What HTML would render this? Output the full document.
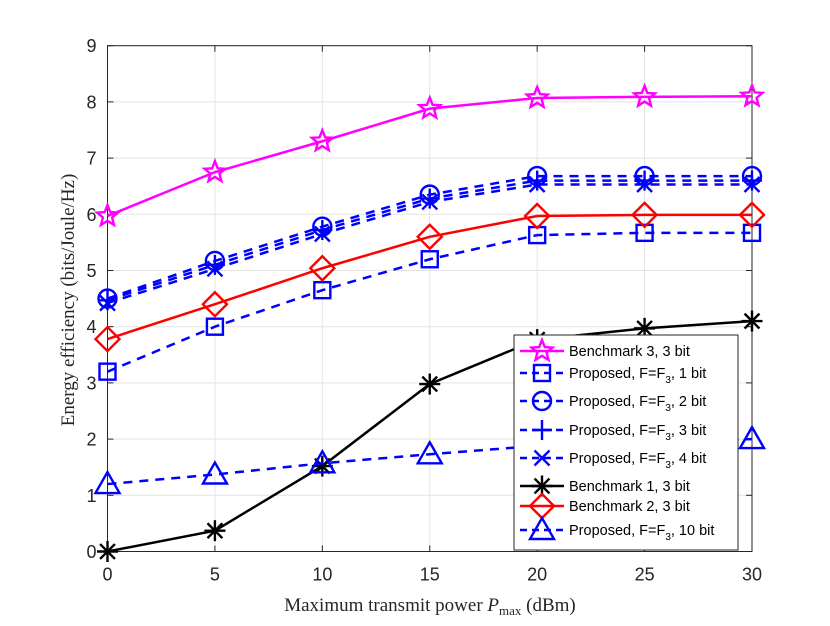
<!DOCTYPE html>
<html><head><meta charset="utf-8"><style>
body{margin:0;background:#fff}
svg text{font-family:"Liberation Sans",sans-serif}
</style></head><body>
<svg id="chart" width="830" height="621" xmlns="http://www.w3.org/2000/svg"></svg>
<script>
const xVals=[0,5,10,15,20,25,30];
const xTicks=[0,5,10,15,20,25,30];
const yTicks=[0,1,2,3,4,5,6,7,8,9];
const bench3=[5.97,6.75,7.3,7.88,8.07,8.09,8.1];
const prop1=[3.2,4.0,4.65,5.2,5.63,5.67,5.67];
const prop2=[4.5,5.17,5.78,6.35,6.68,6.68,6.68];
const prop3=[4.47,5.1,5.72,6.28,6.6,6.6,6.6];
const prop4=[4.42,5.03,5.65,6.22,6.53,6.53,6.53];
const bench1=[0,0.37,1.52,2.98,3.77,3.97,4.1];
const bench2=[3.78,4.4,5.04,5.6,5.97,5.99,5.99];
const prop10=[1.2,1.37,1.57,1.73,1.88,1.95,2.0];
const labels=["Benchmark 3, 3 bit","Proposed, F=F3, 1 bit","Proposed, F=F3, 2 bit","Proposed, F=F3, 3 bit","Proposed, F=F3, 4 bit","Benchmark 1, 3 bit","Benchmark 2, 3 bit","Proposed, F=F3, 10 bit"];

const L=107.5,R=752,T=45.7,B=551.5;
const sx=v=>L+(v-0)/30*(R-L);
const sy=v=>B-(v/9)*(B-T);
const svg=document.getElementById('chart');
const NS='http://www.w3.org/2000/svg';
function mk(tag,at,parent){const e=document.createElementNS(NS,tag);for(const k in at)e.setAttribute(k,at[k]);(parent||svg).appendChild(e);return e;}

xTicks.forEach(t=>{const g=mk('line',{x1:sx(t),x2:sx(t),y1:T,y2:B,stroke:'#e3e3e3','stroke-width':1});
});
yTicks.forEach(t=>{const g=mk('line',{x1:L,x2:R,y1:sy(t),y2:sy(t),stroke:'#e3e3e3','stroke-width':1});
});
const box=mk('rect',{x:L,y:T,width:R-L,height:B-T,fill:'none',stroke:'#262626','stroke-width':1});

xTicks.forEach(t=>{mk('line',{x1:sx(t),x2:sx(t),y1:B,y2:B-6,stroke:'#262626'});mk('line',{x1:sx(t),x2:sx(t),y1:T,y2:T+6,stroke:'#262626'});
const tx=mk('text',{x:sx(t),y:B+29,'text-anchor':'middle','font-size':18,fill:'#262626'});tx.textContent=t;
});
yTicks.forEach(t=>{mk('line',{x1:L,x2:L+6,y1:sy(t),y2:sy(t),stroke:'#262626'});mk('line',{x1:R,x2:R-6,y1:sy(t),y2:sy(t),stroke:'#262626'});
const tx=mk('text',{x:L-11,y:sy(t)+6.5,'text-anchor':'end','font-size':18,fill:'#262626'});tx.textContent=t;
});
const xt=mk('text',{x:430,y:611,'text-anchor':'middle','font-size':19,fill:'#262626',style:'font-family:"Liberation Serif",serif'});
xt.innerHTML='Maximum transmit power <tspan font-style="italic">P</tspan><tspan font-size="13" dy="4">max</tspan><tspan dy="-4"> (dBm)</tspan>';

const yt=mk('text',{x:0,y:0,'text-anchor':'middle','font-size':19,fill:'#262626',transform:'translate(74,300) rotate(-90)',style:'font-family:"Liberation Serif",serif'});
yt.textContent='Energy efficiency (bits/Joule/Hz)';


function marker(type,x,y,c,g){
 const s=10;const a={fill:'none',stroke:c,'stroke-width':2.4};
 if(type==='star'){let p=[];for(let i=0;i<10;i++){const r=i%2?4.8:11,an=-Math.PI/2+i*Math.PI/5;p.push((x+r*Math.cos(an)).toFixed(1)+','+(y+r*Math.sin(an)).toFixed(1));}mk('polygon',Object.assign({points:p.join(' ')},a),g);}
 else if(type==='square')mk('rect',Object.assign({x:x-8,y:y-8,width:16,height:16},a),g);
 else if(type==='circle')mk('circle',Object.assign({cx:x,cy:y,r:9},a),g);
 else if(type==='plus'){mk('line',Object.assign({x1:x-s,x2:x+s,y1:y,y2:y},a),g);mk('line',Object.assign({x1:x,x2:x,y1:y-s,y2:y+s},a),g);}
 else if(type==='x'){mk('line',Object.assign({x1:x-7.5,x2:x+7.5,y1:y-7.5,y2:y+7.5},a),g);mk('line',Object.assign({x1:x-7.5,x2:x+7.5,y1:y+7.5,y2:y-7.5},a),g);}
 else if(type==='asterisk'){for(let i=0;i<4;i++){const an=i*Math.PI/4;mk('line',Object.assign({x1:x-10.5*Math.cos(an),x2:x+10.5*Math.cos(an),y1:y-10.5*Math.sin(an),y2:y+10.5*Math.sin(an)},a),g);}}
 else if(type==='diamond')mk('polygon',Object.assign({points:`${x},${y-12} ${x+12},${y} ${x},${y+12} ${x-12},${y}`},a),g);
 else if(type==='triangle')mk('polygon',Object.assign({points:`${x},${y-12} ${x+12},${y+9} ${x-12},${y+9}`},a),g);
}
const series=[
 {d:bench3,c:'#ff00ff',dash:'',m:'star',n:'series-benchmark-3'},
 {d:prop1,c:'#0000ff',dash:'9,7',m:'square',n:'series-proposed-1bit'},
 {d:prop2,c:'#0000ff',dash:'9,7',m:'circle',n:'series-proposed-2bit'},
 {d:prop3,c:'#0000ff',dash:'9,7',m:'plus',n:'series-proposed-3bit'},
 {d:prop4,c:'#0000ff',dash:'9,7',m:'x',n:'series-proposed-4bit'},
 {d:bench1,c:'#000000',dash:'',m:'asterisk',n:'series-benchmark-1'},
 {d:bench2,c:'#ff0000',dash:'',m:'diamond',n:'series-benchmark-2'},
 {d:prop10,c:'#0000ff',dash:'9,7',m:'triangle',n:'series-proposed-10bit'}];
series.forEach(s=>{
 const g=mk('g',{});
 mk('polyline',{points:s.d.map((v,i)=>sx(xVals[i])+','+sy(v)).join(' '),fill:'none',stroke:s.c,'stroke-width':2.5,'stroke-dasharray':s.dash},g);
 s.d.forEach((v,i)=>marker(s.m,sx(xVals[i]),sy(v),s.c,g));
});
const lg=mk('g',{});
mk('rect',{x:514,y:335,width:224,height:215,fill:'#fff',stroke:'#262626','stroke-width':1},lg);
const rowsY=[351,373,401,430,458,486,506,530];
series.forEach((s,i)=>{
 const e=mk('g',{},lg);
 const y=rowsY[i];
 mk('line',{x1:520,x2:564,y1:y,y2:y,stroke:s.c,'stroke-width':2.5,'stroke-dasharray':s.dash?'7,5':''},e);
 marker(s.m,542,y,s.c,e);
 const t=mk('text',{x:569,y:y+5,'font-size':14.5,fill:'#000'},e);
 const lab=labels[i];
 if(lab.includes('F=F3')){const p=lab.split('F=F3');t.innerHTML=p[0]+'F=F<tspan font-size="10" dy="5">3</tspan><tspan dy="-5">'+p[1]+'</tspan>';}
 else t.textContent=lab;
});
</script>
</body></html>
